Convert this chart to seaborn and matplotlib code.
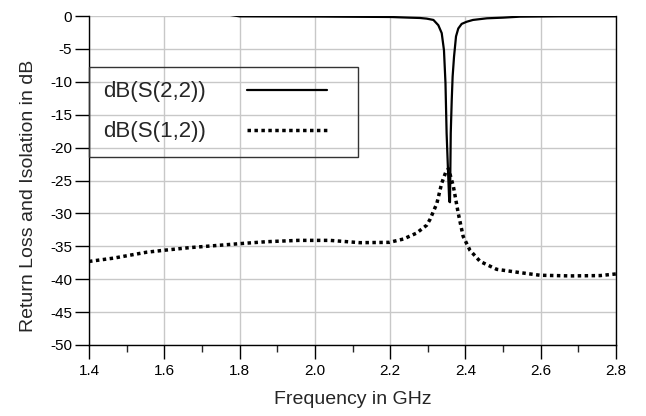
import matplotlib
matplotlib.use("Agg")
import matplotlib.pyplot as plt
from matplotlib.ticker import MultipleLocator
import pandas as pd
import seaborn as sns

# values
freq_s22 = [1.40, 1.76, 1.80, 2.00, 2.20, 2.25, 2.279, 2.297, 2.315, 2.328, 2.337, 2.343,
            2.347, 2.350, 2.354, 2.357, 2.359, 2.361, 2.3636, 2.366, 2.3697, 2.375,
            2.381, 2.390, 2.4035, 2.42, 2.457, 2.50, 2.545, 2.65, 2.80]
s22_db = [0.3, 0.3, -0.05, -0.08, -0.15, -0.25, -0.3, -0.4, -0.6, -1.4, -2.6, -5.2,
          -10.2, -17.8, -23.9, -28.2, -28.3, -17.8, -12.8, -9.2, -6.2, -3.1,
          -1.9, -1.2, -0.87, -0.6, -0.35, -0.25, -0.1, -0.05, -0.05]

freq_s12 = [1.40, 1.465, 1.553, 1.60, 1.668, 1.80, 1.872, 1.956, 2.04, 2.12, 2.198, 2.235,
            2.27, 2.297, 2.306, 2.324, 2.337, 2.348, 2.355, 2.368, 2.381, 2.394, 2.412,
            2.439, 2.483, 2.545, 2.598, 2.678, 2.758, 2.80]
s12_db = [-37.3, -36.8, -35.9, -35.6, -35.2, -34.6, -34.3, -34.1, -34.1, -34.45, -34.4, -33.9,
          -33.0, -31.8, -30.9, -28.5, -25.4, -23.7, -23.2, -25.9, -30.0, -33.5, -35.6,
          -37.3, -38.5, -39.0, -39.4, -39.5, -39.45, -39.2]

x_ticks = [1.4, 1.6, 1.8, 2.0, 2.2, 2.4, 2.6, 2.8]
x_tick_labels = ["1.4", "1.6", "1.8", "2.0", "2.2", "2.4", "2.6", "2.8"]
y_ticks = [0, -5, -10, -15, -20, -25, -30, -35, -40, -45, -50]

s22_df = pd.DataFrame({"freq": freq_s22, "db": s22_db})
s12_df = pd.DataFrame({"freq": freq_s12, "db": s12_db})

sns.set_style("white")
plt.rcParams['font.family'] = ['Liberation Sans', 'DejaVu Sans']
plt.rcParams['axes.unicode_minus'] = False

fig = plt.figure(figsize=(6.46, 4.16), dpi=100)
ax = fig.add_axes([89 / 646, 1 - 345 / 416, 527 / 646, 329 / 416])

sns.lineplot(data=s22_df, x="freq", y="db", ax=ax, color="black", linewidth=1.6,
             label="dB(S(2,2))")
sns.lineplot(data=s12_df, x="freq", y="db", ax=ax, color="black", linewidth=2.5,
             linestyle=(0, (1, 1)), dash_capstyle="butt", label="dB(S(1,2))")

ax.set_xlim(1.4, 2.8)
ax.set_ylim(-50, 0)
ax.set_xticks(x_ticks, x_tick_labels)
ax.xaxis.set_minor_locator(MultipleLocator(0.1))
ax.set_yticks(y_ticks)

ax.set_axisbelow(True)
ax.grid(True, which="major", color="#c8c8c8", linewidth=1.0)
ax.spines["top"].set_visible(False)
for s in ["left", "bottom", "right"]:
    ax.spines[s].set_color("black")
    ax.spines[s].set_linewidth(1.0)

ax.tick_params(axis="y", which="major", direction="out", left=True, length=10,
               width=1, labelsize=11, pad=2, colors="black")
ax.tick_params(axis="x", which="major", direction="out", bottom=True, length=10,
               width=1, labelsize=11, pad=4, colors="black")
ax.tick_params(axis="x", which="minor", direction="out", bottom=True, length=5, width=1)

ax.set_xlabel("Frequency in GHz", fontsize=14)
ax.set_ylabel("Return Loss and Isolation in dB", fontsize=14)
ax.xaxis.set_label_coords(0.5, -0.14)
ax.yaxis.set_label_coords(-0.098, 0.453)

leg = ax.legend(loc="upper left", bbox_to_anchor=(0, 0.745, 0.5104, 0.1), mode="expand",
                markerfirst=False, borderaxespad=0, borderpad=0.65, labelspacing=0.85,
                handlelength=3.56, handletextpad=1.85, fontsize=16, frameon=True,
                fancybox=False, facecolor="none", edgecolor="#333333", framealpha=1)
leg.get_frame().set_linewidth(1.0)

fig.savefig("out.png", dpi=100)
